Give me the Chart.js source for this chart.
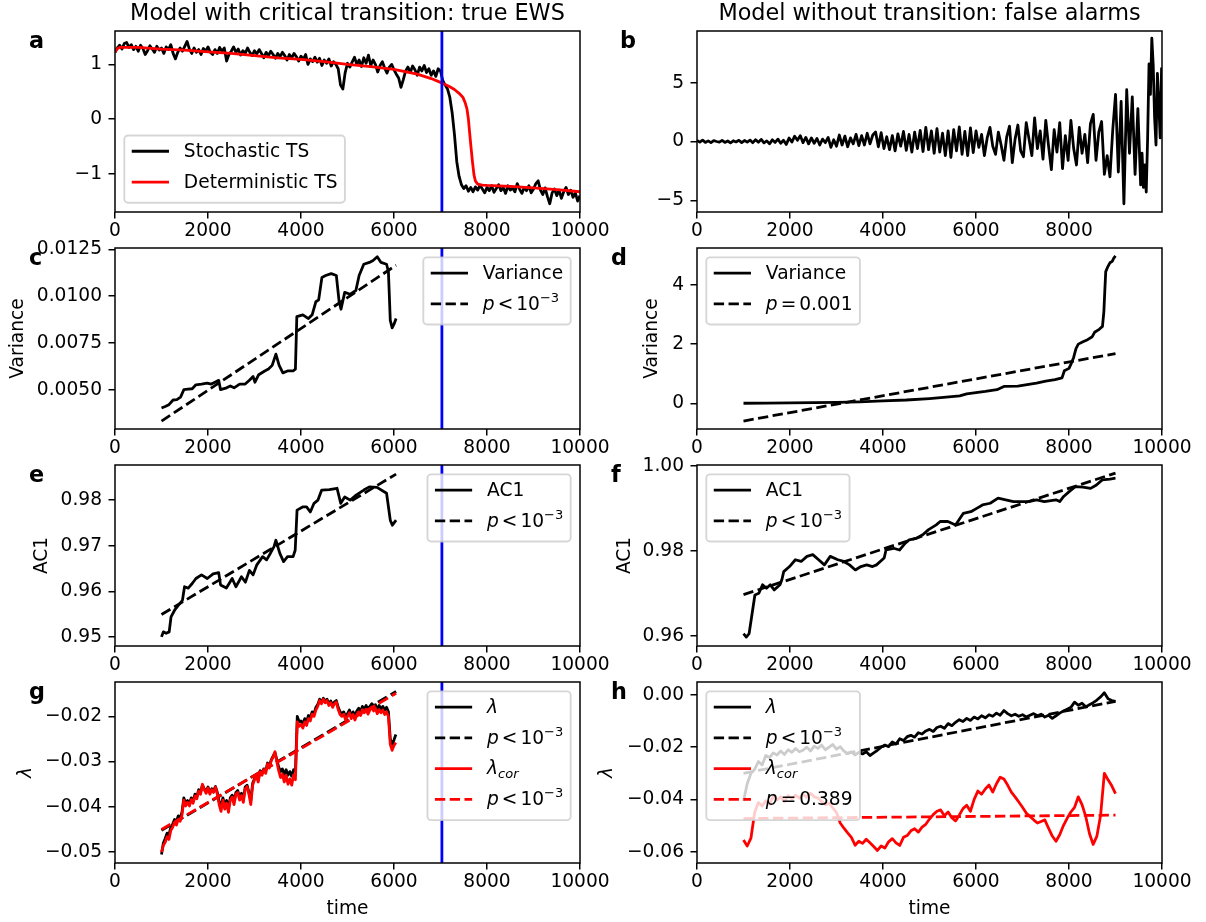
<!DOCTYPE html>
<html><head><meta charset="utf-8">
<script src="https://cdn.jsdelivr.net/npm/chart.js@4.4.1/dist/chart.umd.min.js"></script>
<style>
html,body{margin:0;padding:0;background:#fff;}
#fig{position:relative;width:1206px;height:922px;overflow:hidden;background:#fff;}
.cv{position:absolute;}
.txt{position:absolute;white-space:nowrap;color:#000;font-family:"DejaVu Sans";}
</style></head><body><div id="fig"></div>
<script>
// ---------------- DATA ----------------
const tCrit = 7030;
const xTicks10k = [0,2000,4000,6000,8000,10000];
const xTickLabels10k = ['0','2000','4000','6000','8000','10000'];
const xTicksB = [0,2000,4000,6000,8000];
const xTickLabelsB = ['0','2000','4000','6000','8000'];

// panel a
const aStochT0 = 0, aStochDt = 50;
const aStoch = [
 1.22,1.30,1.35,1.28,1.38,1.40,1.31,1.36,1.27,1.33,
 1.24,1.35,1.29,1.18,1.25,1.34,1.28,1.22,1.33,1.26,
 1.30,1.20,1.32,1.27,1.36,1.20,1.10,1.22,1.30,1.24,
 1.33,1.42,1.28,1.20,1.30,1.22,1.27,1.18,1.29,1.24,
 1.32,1.22,1.18,1.27,1.20,1.31,1.24,1.30,1.06,1.18,
 1.24,1.32,1.22,1.28,1.17,1.25,1.20,1.30,1.22,1.16,
 1.25,1.19,1.27,1.20,1.12,1.22,1.16,1.24,1.18,1.11,
 1.20,1.14,1.22,1.16,1.08,1.18,1.12,1.20,1.14,1.06,
 1.15,1.09,1.18,1.00,1.10,1.05,1.13,1.04,1.11,0.98,
 1.08,1.02,1.10,0.97,1.05,1.00,0.92,0.62,0.55,0.85,
 1.02,0.95,1.04,1.13,1.00,1.08,0.96,1.12,1.02,1.17,
 0.98,1.08,1.00,0.86,0.98,1.05,0.93,0.84,0.95,1.00,
 0.90,0.82,0.75,0.58,0.72,0.88,0.95,0.85,0.97,0.90,
 0.80,0.95,0.88,0.98,0.85,0.92,0.80,0.88,0.78,0.92,
 0.88,0.70,0.62,0.55,0.40,0.12,-0.28,-0.78,-1.05,-1.20,
 -1.27,-1.22,-1.32,-1.25,-1.33,-1.24,-1.30,-1.21,-1.28,-1.35,
 -1.25,-1.31,-1.22,-1.34,-1.27,-1.20,-1.31,-1.25,-1.36,-1.22,
 -1.30,-1.26,-1.33,-1.18,-1.28,-1.36,-1.25,-1.31,-1.22,-1.35,
 -1.28,-1.18,-1.13,-1.30,-1.38,-1.26,-1.42,-1.55,-1.35,-1.28,
 -1.40,-1.30,-1.45,-1.33,-1.25,-1.38,-1.30,-1.43,-1.35,-1.50,
 -1.40];
const aDetTime = [0,40,100,500,1000,1500,2000,2500,3000,3500,4000,4500,5000,5500,6000,6500,6800,7000,7100,7200,7300,7400,7480,7530,7570,7600,7630,7660,7690,7720,7750,7800,7900,8000,8500,9000,9500,10000];
const aDet = [1.22,1.28,1.31,1.31,1.28,1.26,1.23,1.20,1.16,1.12,1.09,1.05,1.00,0.96,0.91,0.82,0.74,0.67,0.63,0.59,0.54,0.47,0.40,0.30,0.18,0.00,-0.28,-0.55,-0.80,-1.02,-1.13,-1.19,-1.21,-1.215,-1.23,-1.26,-1.29,-1.33];
const aYLim = [-1.70, 1.61];
const aYTicks = [-1,0,1];
const aYTickLabels = ['\u22121','0','1'];

// panel b
const bEarlyT0 = 0, bEarlyDt = 60;
const bEarly = [
 0.10,-0.05,0.12,-0.08,0.05,-0.10,0.08,0.00,-0.06,0.10,
 -0.08,0.04,-0.12,0.06,-0.04,0.10,-0.10,0.08,-0.05,0.12,
 -0.10,0.15,-0.06,0.18,-0.12,0.05,-0.20,0.14,-0.08,0.20,
 -0.15,0.10,-0.25,0.30,-0.05,0.45,0.10,0.50,-0.10,0.35,
 -0.20,0.30,-0.15,0.25,-0.30,0.20,-0.10,0.35,-0.50,0.15,
 -0.40,0.55,-0.30,0.45,-0.45,0.30,-0.20,0.60,-0.35,0.50,
 -0.30,0.70,-0.20,0.55,0.80,-0.45,0.75,-0.60,0.40,-0.70,
 0.50,-0.80,0.65,-0.40,0.85,-0.75,0.60,-0.90,0.80,-0.60,
 0.95,-0.85,1.20,-0.70,0.90,-1.00,1.10,-0.90,0.70,-1.20,
 0.90,-1.35,1.00,-0.80,1.25,-1.10,0.85,-1.20,1.15,-0.95];
const bLateT0 = 6000, bLateDt = 60;
const bLate = [
 0.90,-0.50,0.60,-1.20,0.30,1.20,-0.40,-1.10,0.80,-0.30,
 -1.60,0.40,1.30,-1.80,0.20,1.40,-0.80,-1.30,1.60,0.20,
 -1.20,2.00,-0.60,0.90,-1.50,1.80,-0.40,-2.40,1.00,-0.90,
 1.60,-2.30,0.50,-1.60,1.80,-0.60,-2.00,1.20,-1.00,0.60,
 -1.80,1.50,2.30,-1.60,0.80,1.70,-2.80,-1.20,-3.00,1.00,
 4.00,-2.60,3.40,-5.30,4.40,-1.00,3.80,-2.80,2.80,-3.70];
const bEndT0 = 9570, bEndDt = 30;
const bEnd = [-1.00,-3.90,-2.00,-4.30,0.30,6.60,4.00,8.80,6.50,2.00,-0.30,5.80,3.20,0.30,6.30];
const bXLim = [0, 9999];
const bYLim = [-6.0, 9.4];
const bYTicks = [-5,0,5];
const bYTickLabels = ['\u22125','0','5'];

// panel c
const cTime = [1000,1080,1160,1250,1330,1410,1480,1570,1660,1740,1860,1980,2070,2150,2230,2270,2400,2480,2560,2680,2800,2890,2970,3010,3090,3220,3300,3380,3460,3530,3610,3710,3830,3880,3910,4040,4160,4240,4320,4380,4450,4530,4650,4760,4820,4860,4940,5060,5180,5250,5350,5470,5550,5640,5720,5840,5880,5920,5960,6000,6045];
const cVar = [0.00402,0.00410,0.00420,0.00445,0.00447,0.00460,0.00500,0.00503,0.00505,0.00526,0.00530,0.00535,0.00530,0.00540,0.00550,0.00500,0.00510,0.00520,0.00510,0.00530,0.00530,0.00550,0.00570,0.00540,0.00580,0.00600,0.00610,0.00630,0.00690,0.00630,0.00590,0.00600,0.00600,0.00610,0.00890,0.00900,0.00880,0.00900,0.00970,0.00980,0.01100,0.01110,0.01120,0.01110,0.00970,0.00930,0.01020,0.01010,0.01030,0.01110,0.01170,0.01180,0.01190,0.01210,0.01180,0.01170,0.01130,0.00870,0.00830,0.00850,0.00880];
const cFitTime = [1000, 6045];
const cFit = [0.00332, 0.01165];
const cYLim = [0.0029, 0.01257];
const cYTicks = [0.005,0.0075,0.01,0.0125];
const cYTickLabels = ['0.0050','0.0075','0.0100','0.0125'];

// panel d
const dTime = [1000,1500,2000,2500,3000,3500,4000,4500,5000,5300,5650,5800,6000,6200,6450,6600,6900,7100,7300,7500,7700,7850,7900,8000,8050,8100,8150,8200,8300,8400,8500,8550,8650,8720,8750,8770,8790,8830,8880,8930,8960,9000];
const dVar = [0,0.005,0.01,0.02,0.03,0.05,0.08,0.11,0.16,0.20,0.25,0.32,0.36,0.40,0.46,0.57,0.58,0.63,0.68,0.75,0.80,0.86,1.10,1.18,1.35,1.55,1.85,2.00,2.08,2.15,2.25,2.40,2.50,2.60,3.10,3.80,4.45,4.60,4.75,4.80,4.90,4.98];
const dFitTime = [1000, 9000];
const dFit = [-0.60, 1.68];
const dYLim = [-0.87, 5.25];
const dYTicks = [0,2,4];
const dYTickLabels = ['0','2','4'];

// panel e
const eTime = [1000,1040,1100,1165,1205,1290,1370,1450,1495,1575,1660,1740,1860,1985,2110,2230,2270,2395,2520,2600,2720,2805,2890,2970,3050,3175,3260,3340,3420,3460,3545,3625,3710,3830,3875,3915,4035,4120,4200,4280,4365,4445,4610,4775,4855,4940,5060,5185,5350,5470,5635,5840,5920,5965,6045];
const eAC1 = [0.9500,0.9511,0.9508,0.9511,0.9544,0.9560,0.9570,0.9580,0.9610,0.9607,0.9617,0.9628,0.9636,0.9628,0.9638,0.9641,0.9614,0.9607,0.9628,0.9610,0.9632,0.9620,0.9646,0.9636,0.9658,0.9676,0.9669,0.9683,0.9698,0.9712,0.9683,0.9665,0.9676,0.9676,0.9690,0.9778,0.9785,0.9785,0.9774,0.9793,0.9800,0.9822,0.9823,0.9826,0.9793,0.9807,0.9800,0.9811,0.9822,0.9829,0.9828,0.9815,0.9756,0.9745,0.9756];
const eFitTime = [1000, 6045];
const eFit = [0.9549, 0.9857];
const eYLim = [0.9480, 0.9877];
const eYTicks = [0.95,0.96,0.97,0.98];
const eYTickLabels = ['0.95','0.96','0.97','0.98'];

// panel f
const fTime = [1000,1060,1120,1245,1330,1410,1495,1575,1660,1785,1825,1865,1990,2115,2240,2365,2490,2615,2740,2865,3030,3155,3280,3405,3525,3650,3775,3860,4025,4065,4230,4355,4480,4565,4730,4855,4980,5145,5230,5395,5560,5725,5890,6015,6140,6305,6475,6640,6805,6970,7135,7305,7470,7720,7800,7885,8010,8135,8300,8465,8590,8715,8880,9000];
const fAC1 = [0.9605,0.9597,0.9605,0.9696,0.9700,0.9720,0.9712,0.9720,0.9708,0.9720,0.9732,0.9751,0.9763,0.9779,0.9775,0.9787,0.9791,0.9779,0.9767,0.9787,0.9779,0.9775,0.9767,0.9755,0.9763,0.9767,0.9763,0.9767,0.9783,0.9802,0.9806,0.9802,0.9818,0.9826,0.9830,0.9838,0.9850,0.9861,0.9869,0.9869,0.9861,0.9888,0.9892,0.9900,0.9908,0.9912,0.9924,0.9920,0.9916,0.9916,0.9916,0.9920,0.9916,0.9920,0.9916,0.9928,0.9940,0.9951,0.9950,0.9947,0.9955,0.9967,0.9969,0.9971];
const fFitTime = [1000, 9000];
const fFit = [0.9697, 0.9983];
const fYLim = [0.9576, 1.0002];
const fYTicks = [0.96,0.98,1.00];
const fYTickLabels = ['0.96','0.98','1.00'];

// panel g
const gT0 = 1000, gDt = 40;
const gLam = [
 -0.0505,-0.0480,-0.0470,-0.0458,-0.0462,-0.0445,-0.0438,-0.0428,-0.0432,-0.0420,
 -0.0425,-0.0412,-0.0380,-0.0392,-0.0386,-0.0392,-0.0380,-0.0388,-0.0372,-0.0378,
 -0.0362,-0.0368,-0.0352,-0.0360,-0.0366,-0.0356,-0.0368,-0.0360,-0.0364,-0.0355,
 -0.0368,-0.0388,-0.0400,-0.0380,-0.0396,-0.0386,-0.0402,-0.0380,-0.0374,-0.0388,
 -0.0368,-0.0364,-0.0380,-0.0370,-0.0384,-0.0356,-0.0352,-0.0368,-0.0386,-0.0348,
 -0.0338,-0.0330,-0.0340,-0.0320,-0.0326,-0.0316,-0.0322,-0.0303,-0.0310,-0.0296,
 -0.0288,-0.0280,-0.0296,-0.0312,-0.0322,-0.0316,-0.0328,-0.0318,-0.0330,-0.0322,
 -0.0332,-0.0318,-0.0322,-0.0200,-0.0212,-0.0210,-0.0216,-0.0205,-0.0212,-0.0198,
 -0.0202,-0.0190,-0.0194,-0.0180,-0.0174,-0.0162,-0.0168,-0.0160,-0.0166,-0.0162,
 -0.0172,-0.0166,-0.0175,-0.0168,-0.0165,-0.0180,-0.0190,-0.0194,-0.0190,-0.0202,
 -0.0194,-0.0186,-0.0198,-0.0190,-0.0200,-0.0188,-0.0182,-0.0190,-0.0178,-0.0184,
 -0.0176,-0.0186,-0.0178,-0.0172,-0.0180,-0.0174,-0.0185,-0.0176,-0.0183,-0.0178,
 -0.0186,-0.0180,-0.0190,-0.0250,-0.0262,-0.0252,-0.0240];
const gLamCor = [
 -0.0500,-0.0485,-0.0478,-0.0466,-0.0472,-0.0452,-0.0445,-0.0434,-0.0440,-0.0428,
 -0.0432,-0.0418,-0.0385,-0.0398,-0.0390,-0.0398,-0.0384,-0.0392,-0.0376,-0.0382,
 -0.0365,-0.0372,-0.0350,-0.0362,-0.0370,-0.0358,-0.0372,-0.0362,-0.0368,-0.0356,
 -0.0372,-0.0395,-0.0410,-0.0385,-0.0405,-0.0392,-0.0412,-0.0385,-0.0378,-0.0395,
 -0.0372,-0.0368,-0.0385,-0.0375,-0.0390,-0.0360,-0.0355,-0.0372,-0.0395,-0.0352,
 -0.0340,-0.0332,-0.0345,-0.0322,-0.0330,-0.0318,-0.0326,-0.0305,-0.0314,-0.0298,
 -0.0290,-0.0278,-0.0300,-0.0320,-0.0335,-0.0328,-0.0345,-0.0330,-0.0350,-0.0338,
 -0.0352,-0.0330,-0.0340,-0.0212,-0.0222,-0.0218,-0.0226,-0.0212,-0.0220,-0.0205,
 -0.0210,-0.0195,-0.0200,-0.0186,-0.0178,-0.0165,-0.0172,-0.0162,-0.0170,-0.0165,
 -0.0176,-0.0170,-0.0180,-0.0172,-0.0168,-0.0185,-0.0196,-0.0200,-0.0195,-0.0208,
 -0.0200,-0.0192,-0.0205,-0.0196,-0.0208,-0.0196,-0.0190,-0.0198,-0.0185,-0.0192,
 -0.0184,-0.0195,-0.0186,-0.0180,-0.0188,-0.0182,-0.0194,-0.0185,-0.0192,-0.0186,
 -0.0196,-0.0190,-0.0200,-0.0262,-0.0275,-0.0264,-0.0258];
const gFitTime = [1000, 6045];
const gFitLam = [-0.0452, -0.0145];
const gFitCor = [-0.0450, -0.0149];
const gYLim = [-0.0524, -0.0124];
const gYTicks = [-0.05,-0.04,-0.03,-0.02];
const gYTickLabels = ['\u22120.05','\u22120.04','\u22120.03','\u22120.02'];

// panel h
const hT0 = 1000, hDt = 80;
const hLam = [
 -0.0406,-0.0340,-0.0300,-0.0285,-0.0255,-0.0268,-0.0232,-0.0240,-0.0222,-0.0230,
 -0.0215,-0.0228,-0.0210,-0.0220,-0.0205,-0.0218,-0.0212,-0.0200,-0.0215,-0.0196,
 -0.0205,-0.0192,-0.0210,-0.0200,-0.0190,-0.0208,-0.0198,-0.0215,-0.0225,-0.0218,
 -0.0230,-0.0220,-0.0226,-0.0218,-0.0232,-0.0222,-0.0212,-0.0200,-0.0192,-0.0198,
 -0.0180,-0.0188,-0.0168,-0.0175,-0.0160,-0.0155,-0.0162,-0.0145,-0.0150,-0.0138,
 -0.0132,-0.0140,-0.0125,-0.0120,-0.0128,-0.0110,-0.0118,-0.0105,-0.0095,-0.0102,
 -0.0090,-0.0098,-0.0085,-0.0092,-0.0080,-0.0088,-0.0076,-0.0082,-0.0070,-0.0078,
 -0.0060,-0.0072,-0.0080,-0.0074,-0.0082,-0.0076,-0.0085,-0.0078,-0.0072,-0.0080,
 -0.0074,-0.0085,-0.0078,-0.0090,-0.0080,-0.0070,-0.0062,-0.0055,-0.0048,-0.0028,
 -0.0040,-0.0032,-0.0046,-0.0038,-0.0030,-0.0020,-0.0008,0.0008,-0.0015,-0.0022,
 -0.0025];
const hLamCor = [
 -0.0555,-0.0578,-0.0548,-0.0450,-0.0412,-0.0425,-0.0405,-0.0418,-0.0388,-0.0402,
 -0.0390,-0.0408,-0.0386,-0.0398,-0.0384,-0.0395,-0.0380,-0.0392,-0.0376,-0.0390,
 -0.0394,-0.0408,-0.0420,-0.0415,-0.0432,-0.0450,-0.0490,-0.0510,-0.0528,-0.0545,
 -0.0575,-0.0560,-0.0568,-0.0552,-0.0566,-0.0580,-0.0595,-0.0578,-0.0586,-0.0562,
 -0.0550,-0.0566,-0.0576,-0.0545,-0.0538,-0.0520,-0.0512,-0.0525,-0.0506,-0.0495,
 -0.0475,-0.0458,-0.0445,-0.0440,-0.0462,-0.0448,-0.0470,-0.0482,-0.0460,-0.0435,
 -0.0422,-0.0445,-0.0400,-0.0368,-0.0380,-0.0360,-0.0345,-0.0372,-0.0340,-0.0315,
 -0.0322,-0.0345,-0.0372,-0.0390,-0.0410,-0.0430,-0.0452,-0.0465,-0.0478,-0.0490,
 -0.0484,-0.0478,-0.0510,-0.0540,-0.0560,-0.0535,-0.0500,-0.0472,-0.0448,-0.0430,
 -0.0390,-0.0420,-0.0465,-0.0530,-0.0572,-0.0540,-0.0460,-0.0300,-0.0325,-0.0348,
 -0.0378];
const hFitTime = [1000, 9000];
const hFitLam = [-0.0300, -0.0025];
const hFitCor = [-0.0473, -0.0460];
const hYLim = [-0.0643, 0.0049];
const hYTicks = [-0.06,-0.04,-0.02,0.00];
const hYTickLabels = ['\u22120.06','\u22120.04','\u22120.02','0.00'];

const xLim10k = [0, 10000];

// texts
const titleLeft = 'Model with critical transition: true EWS';
const titleRight = 'Model without transition: false alarms';

// ---------------- STYLE / HELPERS ----------------
const PT = 134/72;
const FS = 10*PT;
const TFS = 12*PT;
const LW = 1.5*PT;
const DASH = [3.7*LW, 1.6*LW];
const SPW = 0.8*PT;
const TICKLEN = 3.5*PT;
const BLACK='#000000', RED='#ff0000', BLUE='#0000ff';

Chart.defaults.font.family = '"DejaVu Sans", sans-serif';
Chart.defaults.font.size = FS;
Chart.defaults.color = '#000';

const fig = document.getElementById('fig');
const COLS = [{cl:0, pl:115, w:620}, {cl:580, pl:697, w:626}];
const PW = 465, PH = 181, ROW_TOPS = [31,248,465,682], TM = 18;

function xy(xs, ys){ return ys.map((v,i)=>({x:xs[i], y:v})); }
function gridT(t0, dt, n){ return Array.from({length:n}, (_,i)=>t0+i*dt); }
function ds(data, color, dashed, order){
  return {data, borderColor:color, borderWidth:LW, borderDash: dashed?DASH:[], pointRadius:0, pointHoverRadius:0,
          fill:false, tension:0, order, borderJoinStyle:'round', borderCapStyle:'butt'};
}
function vline(yLim){ return ds([{x:tCrit,y:yLim[0]},{x:tCrit,y:yLim[1]}], BLUE, false, 0); }

const REL = 0.16*FS;
function segFont(s){ const sz=(s.sup||s.sub)?FS*0.7:FS; return (s.it?'italic ':'')+sz.toFixed(2)+'px "DejaVu Sans"'; }
function richWidth(ctx, segs){ let w=0; segs.forEach(s=>{ctx.font=segFont(s); w+=ctx.measureText(s.t).width+(s.sp?2*REL:0);}); return w; }
function drawRich(ctx, segs, x, y){
  segs.forEach(s=>{ ctx.font=segFont(s); if(s.sp) x+=REL;
    const dy = s.sup ? -0.42*FS : (s.sub ? 0.2*FS : 0);
    ctx.fillText(s.t, x, y+dy); x += ctx.measureText(s.t).width + (s.sp?REL:0); });
}
function rr(ctx,x,y,w,h,r){ ctx.moveTo(x+r,y); ctx.lineTo(x+w-r,y); ctx.arcTo(x+w,y,x+w,y+r,r); ctx.lineTo(x+w,y+h-r); ctx.arcTo(x+w,y+h,x+w-r,y+h,r); ctx.lineTo(x+r,y+h); ctx.arcTo(x,y+h,x,y+h-r,r); ctx.lineTo(x,y+r); ctx.arcTo(x,y,x+r,y,r); ctx.closePath(); }

const L_PLESS = [{t:'p',it:1},{t:'<',sp:1},{t:'10'},{t:'\u22123',sup:1}];
const L_LAM = [{t:'\u03bb',it:1}];
const L_LAMCOR = [{t:'\u03bb',it:1},{t:'cor',it:1,sub:1}];
function L_PEQ(v){ return [{t:'p',it:1},{t:'=',sp:1},{t:v}]; }

function drawLegend(ctx, ca, leg){
  const BP=0.4*FS, LS=0.5*FS, HL=2*FS, HTP=0.8*FS, BAP=0.5*FS, RH=21.5;
  ctx.textAlign='left'; ctx.textBaseline='alphabetic';
  const tw = Math.max(...leg.items.map(it=>richWidth(ctx,it.label)));
  const n = leg.items.length;
  const w = 2*BP+HL+HTP+tw, h = 2*BP+n*RH+(n-1)*LS;
  const x0 = leg.loc.includes('right') ? ca.right-BAP-w : ca.left+BAP;
  const y0 = leg.loc.includes('upper') ? ca.top+BAP : ca.bottom-BAP-h;
  ctx.beginPath(); rr(ctx,x0,y0,w,h,0.2*FS);
  ctx.fillStyle='rgba(255,255,255,0.8)'; ctx.fill();
  ctx.lineWidth=1.0*PT; ctx.strokeStyle='rgba(204,204,204,0.8)'; ctx.setLineDash([]); ctx.stroke();
  leg.items.forEach((it,i)=>{
    const rt = y0+BP+i*(RH+LS), hy = rt+8.3;
    ctx.beginPath(); ctx.setLineDash(it.dashed?DASH:[]); ctx.lineWidth=LW; ctx.strokeStyle=it.color; ctx.lineCap='butt';
    ctx.moveTo(x0+BP,hy); ctx.lineTo(x0+BP+HL,hy); ctx.stroke(); ctx.setLineDash([]);
    ctx.fillStyle='#000'; drawRich(ctx, it.label, x0+BP+HL+HTP, rt+14);
  });
}

function panel(p){
  const col = COLS[p.col], top = ROW_TOPS[p.row];
  const lm = col.pl - col.cl, rm = col.w - lm - PW;
  const bm = p.row===3 ? 922-(top+PH) : 36;
  const H = TM+PH+bm;
  const wrap = document.createElement('div');
  wrap.className='cv'; wrap.style.left=col.cl+'px'; wrap.style.top=(top-TM)+'px';
  wrap.style.width=col.w+'px'; wrap.style.height=H+'px';
  const cv = document.createElement('canvas'); cv.width=col.w; cv.height=H;
  wrap.appendChild(cv); fig.appendChild(wrap);
  const plug = { id:'mpl'+p.col+p.row, afterDatasetsDraw(chart){
    const ctx=chart.ctx, ca=chart.chartArea; ctx.save();
    ctx.strokeStyle='#000'; ctx.lineWidth=SPW; ctx.setLineDash([]);
    ctx.strokeRect(ca.left, ca.top, ca.right-ca.left, ca.bottom-ca.top);
    if (p.legend) drawLegend(ctx, ca, p.legend);
    ctx.restore(); } };
  const gridOpt = {display:true, drawOnChartArea:false, drawTicks:true, tickLength:TICKLEN, tickWidth:SPW, lineWidth:SPW, tickColor:'#000', color:'#000'};
  new Chart(cv, {
    type:'line',
    data:{datasets:p.datasets},
    options:{
      responsive:false, animation:false, devicePixelRatio:1, events:[],
      layout:{padding:{top:TM, right:rm, left:0, bottom:0}},
      plugins:{legend:{display:false}, tooltip:{enabled:false}},
      scales:{
        x:{type:'linear', bounds:'data', min:p.xLim[0], max:p.xLim[1],
           afterBuildTicks:s=>{ s.ticks = p.xTicks.map(v=>({value:v})); },
           afterFit:s=>{ s.height = bm; },
           ticks:{autoSkip:false, maxRotation:0, minRotation:0, padding:1.3, color:'#000', font:{size:FS},
                  callback:(v,i)=>p.xTickLabels[i]},
           grid:gridOpt, border:{display:false},
           title: p.xTitle ? {display:true, text:p.xTitle, color:'#000', font:{size:FS}, padding:{top:0,bottom:2}} : {display:false}},
        y:{type:'linear', bounds:'data', min:p.yLim[0], max:p.yLim[1],
           afterBuildTicks:s=>{ s.ticks = p.yTicks.map(v=>({value:v})); },
           afterFit:s=>{ s.width = lm; },
           ticks:{autoSkip:false, padding:TICKLEN, color:'#000', font:{size:FS},
                  callback:(v,i)=>p.yTickLabels[i]},
           grid:gridOpt, border:{display:false},
           title: p.yTitle ? {display:true, text:p.yTitle, color:'#000', font:{size:FS, style:p.yItalic?'italic':'normal'}, padding:{top:p.yPad, bottom:0}} : {display:false}}
      }
    },
    plugins:[plug]
  });
}

function addText(txt, x, base, size, weight, center){
  const d = document.createElement('div'); d.className='txt'; d.textContent=txt;
  const off = (size-1.164*size)/2 + 0.928*size;
  d.style.top=(base-off)+'px'; d.style.left=x+'px';
  d.style.fontSize=size+'px'; d.style.lineHeight=size+'px'; d.style.fontWeight=weight;
  if (center) d.style.transform='translateX(-50%)';
  fig.appendChild(d);
}

// ---------------- BUILD ----------------
const aStochTime = gridT(aStochT0, aStochDt, aStoch.length);
const bTime = gridT(bEarlyT0, bEarlyDt, bEarly.length).concat(gridT(bLateT0, bLateDt, bLate.length), gridT(bEndT0, bEndDt, bEnd.length));
const bVal = bEarly.concat(bLate, bEnd);
const gTime = gridT(gT0, gDt, gLam.length);
const hTime = gridT(hT0, hDt, hLam.length);

panel({col:0,row:0, xLim:xLim10k, yLim:aYLim, xTicks:xTicks10k, xTickLabels:xTickLabels10k, yTicks:aYTicks, yTickLabels:aYTickLabels,
  datasets:[vline(aYLim), ds(xy(aDetTime,aDet),RED,false,1), ds(xy(aStochTime,aStoch),BLACK,false,2)],
  legend:{loc:'lower left', items:[{color:BLACK,label:[{t:'Stochastic TS'}]},{color:RED,label:[{t:'Deterministic TS'}]}]}});
panel({col:1,row:0, xLim:bXLim, yLim:bYLim, xTicks:xTicksB, xTickLabels:xTickLabelsB, yTicks:bYTicks, yTickLabels:bYTickLabels,
  datasets:[ds(xy(bTime,bVal),BLACK,false,1)]});
panel({col:0,row:1, xLim:xLim10k, yLim:cYLim, xTicks:xTicks10k, xTickLabels:xTickLabels10k, yTicks:cYTicks, yTickLabels:cYTickLabels,
  yTitle:'Variance', yPad:7.3,
  datasets:[vline(cYLim), ds(xy(cFitTime,cFit),BLACK,true,1), ds(xy(cTime,cVar),BLACK,false,2)],
  legend:{loc:'upper right', items:[{color:BLACK,label:[{t:'Variance'}]},{color:BLACK,dashed:1,label:L_PLESS}]}});
panel({col:1,row:1, xLim:xLim10k, yLim:dYLim, xTicks:xTicks10k, xTickLabels:xTickLabels10k, yTicks:dYTicks, yTickLabels:dYTickLabels,
  yTitle:'Variance', yPad:60.8,
  datasets:[ds(xy(dFitTime,dFit),BLACK,true,1), ds(xy(dTime,dVar),BLACK,false,2)],
  legend:{loc:'upper left', items:[{color:BLACK,label:[{t:'Variance'}]},{color:BLACK,dashed:1,label:L_PEQ('0.001')}]}});
panel({col:0,row:2, xLim:xLim10k, yLim:eYLim, xTicks:xTicks10k, xTickLabels:xTickLabels10k, yTicks:eYTicks, yTickLabels:eYTickLabels,
  yTitle:'AC1', yPad:30.8,
  datasets:[vline(eYLim), ds(xy(eFitTime,eFit),BLACK,true,1), ds(xy(eTime,eAC1),BLACK,false,2)],
  legend:{loc:'upper right', items:[{color:BLACK,label:[{t:'AC1'}]},{color:BLACK,dashed:1,label:L_PLESS}]}});
panel({col:1,row:2, xLim:xLim10k, yLim:fYLim, xTicks:xTicks10k, xTickLabels:xTickLabels10k, yTicks:fYTicks, yTickLabels:fYTickLabels,
  yTitle:'AC1', yPad:33.8,
  datasets:[ds(xy(fFitTime,fFit),BLACK,true,1), ds(xy(fTime,fAC1),BLACK,false,2)],
  legend:{loc:'upper left', items:[{color:BLACK,label:[{t:'AC1'}]},{color:BLACK,dashed:1,label:L_PLESS}]}});
panel({col:0,row:3, xLim:xLim10k, yLim:gYLim, xTicks:xTicks10k, xTickLabels:xTickLabels10k, yTicks:gYTicks, yTickLabels:gYTickLabels,
  yTitle:'\u03bb', yItalic:true, yPad:15.3, xTitle:'time',
  datasets:[vline(gYLim), ds(xy(gFitTime,gFitCor),RED,true,1), ds(xy(gTime,gLamCor),RED,false,2),
            ds(xy(gFitTime,gFitLam),BLACK,true,3), ds(xy(gTime,gLam),BLACK,false,4)],
  legend:{loc:'upper right', items:[{color:BLACK,label:L_LAM},{color:BLACK,dashed:1,label:L_PLESS},{color:RED,label:L_LAMCOR},{color:RED,dashed:1,label:L_PLESS}]}});
panel({col:1,row:3, xLim:xLim10k, yLim:hYLim, xTicks:xTicks10k, xTickLabels:xTickLabels10k, yTicks:hYTicks, yTickLabels:hYTickLabels,
  yTitle:'\u03bb', yItalic:true, yPad:15.8, xTitle:'time',
  datasets:[ds(xy(hFitTime,hFitCor),RED,true,1), ds(xy(hTime,hLamCor),RED,false,2),
            ds(xy(hFitTime,hFitLam),BLACK,true,3), ds(xy(hTime,hLam),BLACK,false,4)],
  legend:{loc:'upper left', items:[{color:BLACK,label:L_LAM},{color:BLACK,dashed:1,label:L_PLESS},{color:RED,label:L_LAMCOR},{color:RED,dashed:1,label:L_PEQ('0.389')}]}});

addText(titleLeft, 347.5, 19.5, TFS, 'normal', true);
addText(titleRight, 929.5, 19.5, TFS, 'normal', true);
const letters = ['a','b','c','d','e','f','g','h'];
const letterX = [29,620,29,611,29,611,29,611];
letters.forEach((l,i)=>{ addText(l, letterX[i], ROW_TOPS[Math.floor(i/2)]+17, TFS, 'bold', false); });
</script></body></html>
